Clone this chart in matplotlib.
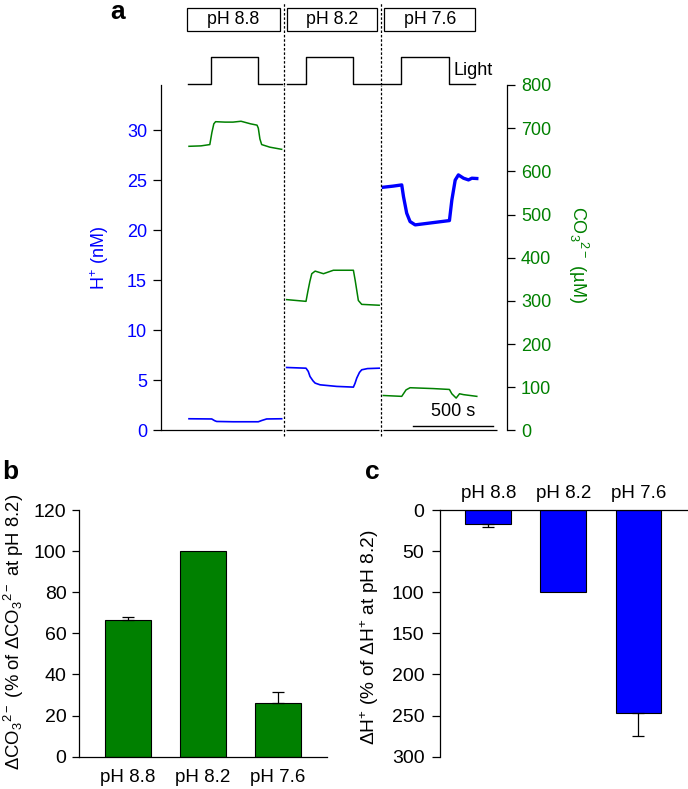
import matplotlib
matplotlib.use('Agg')
import matplotlib.pyplot as plt
from matplotlib.patches import Rectangle
import numpy as np

plt.rcParams['font.family'] = ['Liberation Sans', 'DejaVu Sans']
plt.rcParams['mathtext.fontset'] = 'custom'
plt.rcParams['mathtext.rm'] = 'Liberation Sans'
plt.rcParams['mathtext.it'] = 'Liberation Sans:italic'
plt.rcParams['mathtext.bf'] = 'Liberation Sans:bold'
plt.rcParams['axes.linewidth'] = 0.9

BLUE = '#0000ff'
GREEN = '#008000'
FS_A = 13
FS_B = 14

# ---------------- panel a data (time in s) ----------------
ph_labels = ['pH 8.8', 'pH 8.2', 'pH 7.6']
box_spans = [(161, 744), (788, 1350), (1394, 1963)]
light_spans = [(169, 756), (786, 1369), (1379, 1963)]
light_on = [(311, 604), (904, 1200), (1498, 1800)]
switch_t = [771, 1375]
axis_segs = [(0, 756), (781, 1363), (1388, 2100)]

# H+ traces (nM)
h1_t = [175, 317, 335, 348, 450, 608, 630, 660, 754]
h1_v = [1.17, 1.15, 0.98, 0.90, 0.87, 0.87, 1.0, 1.15, 1.17]
h2_t = [785, 906, 920, 931, 950, 963, 994, 1098, 1202, 1212, 1223, 1240, 1254, 1290, 1363]
h2_v = [6.29, 6.22, 5.9, 5.39, 4.95, 4.73, 4.56, 4.40, 4.33, 4.7, 5.23, 5.8, 6.06, 6.18, 6.22]
h3_t = [1389, 1450, 1504, 1515, 1535, 1556, 1588, 1702, 1802, 1817, 1838, 1858, 1890, 1921, 1942, 1973]
h3_v = [24.29, 24.4, 24.52, 23.35, 21.7, 20.86, 20.53, 20.76, 20.96, 23.0, 25.0, 25.52, 25.19, 25.02, 25.19, 25.16]

# CO3 2- traces (uM)
c1_t = [175, 250, 305, 318, 330, 341, 400, 450, 500, 560, 600, 608, 618, 629, 680, 754]
c1_v = [658, 659, 662, 690, 710, 715, 714, 714, 716, 710, 707, 700, 675, 662, 656, 651]
c2_t = [785, 906, 917, 930, 942, 963, 1015, 1077, 1202, 1213, 1233, 1254, 1363]
c2_v = [303, 299, 321, 345, 363, 369, 363, 371, 371, 348, 301, 292, 290]
c3_t = [1389, 1504, 1531, 1556, 1702, 1802, 1817, 1844, 1865, 1890, 1973]
c3_v = [81, 79, 94, 99, 97, 95, 85, 75, 85, 83, 79]

scale_t = (1575, 2075)

# ---------------- panels b, c data ----------------
cats = ['pH 8.8', 'pH 8.2', 'pH 7.6']
co3_pct = [66.5, 100, 26.0]
co3_err = [1.5, 0, 5.5]
h_pct = [17.0, 100, 247.3]
h_err = [3.3, 0, 27.5]

fig = plt.figure(figsize=(6.88, 7.89), dpi=100)

# ---------------- panel a ----------------
ax = fig.add_axes([0.234, 0.4544, 0.503, 0.4379])
ax2 = ax.twinx()
ax.set_xlim(0, 2162)
ax.set_ylim(0, 34.5)
ax2.set_ylim(0, 800)

for t, v in [(h1_t, h1_v), (h2_t, h2_v)]:
    ax.plot(t, v, color=BLUE, lw=1.2)
ax.plot(h3_t, h3_v, color=BLUE, lw=2.4)
for t, v in [(c1_t, c1_v), (c2_t, c2_v), (c3_t, c3_v)]:
    ax2.plot(t, v, color=GREEN, lw=1.1)

for s in ['top', 'bottom', 'right']:
    ax.spines[s].set_visible(False)
for s in ['top', 'bottom', 'left']:
    ax2.spines[s].set_visible(False)
ax.set_xticks([])
ax.set_yticks(np.arange(0, 31, 5))
ax2.set_yticks(np.arange(0, 801, 100))
ax.tick_params(axis='y', direction='out', length=6, width=0.9, pad=4,
               labelsize=FS_A, labelcolor=BLUE)
ax2.tick_params(axis='y', direction='out', length=6, width=0.9, pad=4,
                labelsize=FS_A, labelcolor=GREEN)
ax.set_ylabel('H$^{+}$ (nM)', color=BLUE, fontsize=FS_A, va='center')
ax.yaxis.set_label_coords(-0.176, 0.5)
ax2.set_ylabel('CO$_{3}{}^{2-}$ (µM)', color=GREEN, fontsize=FS_A, rotation=270, va='center')
ax2.yaxis.set_label_coords(1.205, 0.508)

# broken baseline
for a, b in axis_segs:
    ax.plot([a, b], [0, 0], color='black', lw=0.9, clip_on=False, solid_capstyle='butt')
# switch lines
for t in switch_t:
    ax.axvline(t, ymin=-0.015, ymax=1, color='black', lw=0.9,
               ls=(0, (2, 1.5)), clip_on=False)
# scale bar
ax.plot(scale_t, [0.47, 0.47], color='black', lw=1.0)
ax.text(np.mean(scale_t), 1.0, '500 s', ha='center', va='bottom', fontsize=FS_A)

# top strip: pH boxes and light protocol
axt = fig.add_axes([0.234, 0.8923, 0.503, 0.1077])
axt.set_xlim(0, 2162)
axt.set_ylim(85, 0)
axt.axis('off')
for (a, b), lab in zip(box_spans, ph_labels):
    axt.add_patch(Rectangle((a, 8), b - a, 23, fill=False, ec='black', lw=0.9))
    axt.text((a + b) / 2, 19.5, lab, ha='center', va='center', fontsize=12.8)
for (s0, s1), (on, off) in zip(light_spans, light_on):
    axt.plot([s0, on, on, off, off, s1], [84, 84, 57, 57, 84, 84],
             color='black', lw=1.0, clip_on=False)
axt.text(light_on[-1][1] + 25, 75, 'Light', ha='left', va='baseline', fontsize=FS_A)
for t in switch_t:
    axt.axvline(t, ymin=0, ymax=0.98, color='black', lw=0.9, ls=(0, (2, 1.5)))

fig.text(118 / 688, 1 - 12 / 789, 'a', fontsize=19, fontweight='bold',
         ha='center', va='center')

# ---------------- panel b ----------------
x = np.arange(len(cats))
axb = fig.add_axes([0.1148, 0.0409, 0.3600, 0.3127])
axb.bar(x, co3_pct, width=0.61, color=GREEN, edgecolor='black', lw=0.8)
m = np.array(co3_err) > 0
axb.errorbar(x[m], np.array(co3_pct)[m], yerr=[np.zeros(m.sum()), np.array(co3_err)[m]],
             fmt='none', ecolor='black', elinewidth=0.9, capsize=4.5, capthick=0.9)
axb.set_xlim(-0.652, 2.65)
axb.set_ylim(0, 120)
axb.set_yticks(np.arange(0, 121, 20))
axb.set_xticks(x)
axb.set_xticklabels(cats)
axb.spines['top'].set_visible(False)
axb.spines['right'].set_visible(False)
axb.tick_params(axis='x', length=0, pad=9, labelsize=13.5)
axb.tick_params(axis='y', length=5, width=0.9, pad=4, labelsize=FS_B)
axb.set_ylabel('ΔCO$_{3}{}^{2-}$ (% of ΔCO$_{3}{}^{2-}$ at pH 8.2)', fontsize=13.3, va='center')
axb.yaxis.set_label_coords(-0.264, 0.507)
fig.text(10 / 688, 1 - 472 / 789, 'b', fontsize=19, fontweight='bold',
         ha='center', va='center')

# ---------------- panel c ----------------
axc = fig.add_axes([0.6391, 0.0409, 0.3609, 0.3127])
axc.bar(x, h_pct, width=0.61, color=BLUE, edgecolor='black', lw=0.8)
m = np.array(h_err) > 0
axc.errorbar(x[m], np.array(h_pct)[m], yerr=[np.zeros(m.sum()), np.array(h_err)[m]],
             fmt='none', ecolor='black', elinewidth=0.9, capsize=4.5, capthick=0.9)
axc.set_xlim(-0.647, 2.66)
axc.set_ylim(300, 0)
axc.set_yticks(np.arange(0, 301, 50))
axc.set_xticks(x)
axc.set_xticklabels(cats)
axc.xaxis.tick_top()
axc.spines['bottom'].set_visible(False)
axc.spines['right'].set_visible(False)
axc.tick_params(axis='x', length=0, pad=6, labelsize=13.5)
axc.tick_params(axis='y', length=6, width=0.9, pad=5, labelsize=FS_B)
axc.set_ylabel('ΔH$^{+}$ (% of ΔH$^{+}$ at pH 8.2)', fontsize=13.8, va='center')
axc.yaxis.set_label_coords(-0.281, 0.486)
fig.text(372 / 688, 1 - 472 / 789, 'c', fontsize=19, fontweight='bold',
         ha='center', va='center')

fig.savefig('out.png', dpi=100)
